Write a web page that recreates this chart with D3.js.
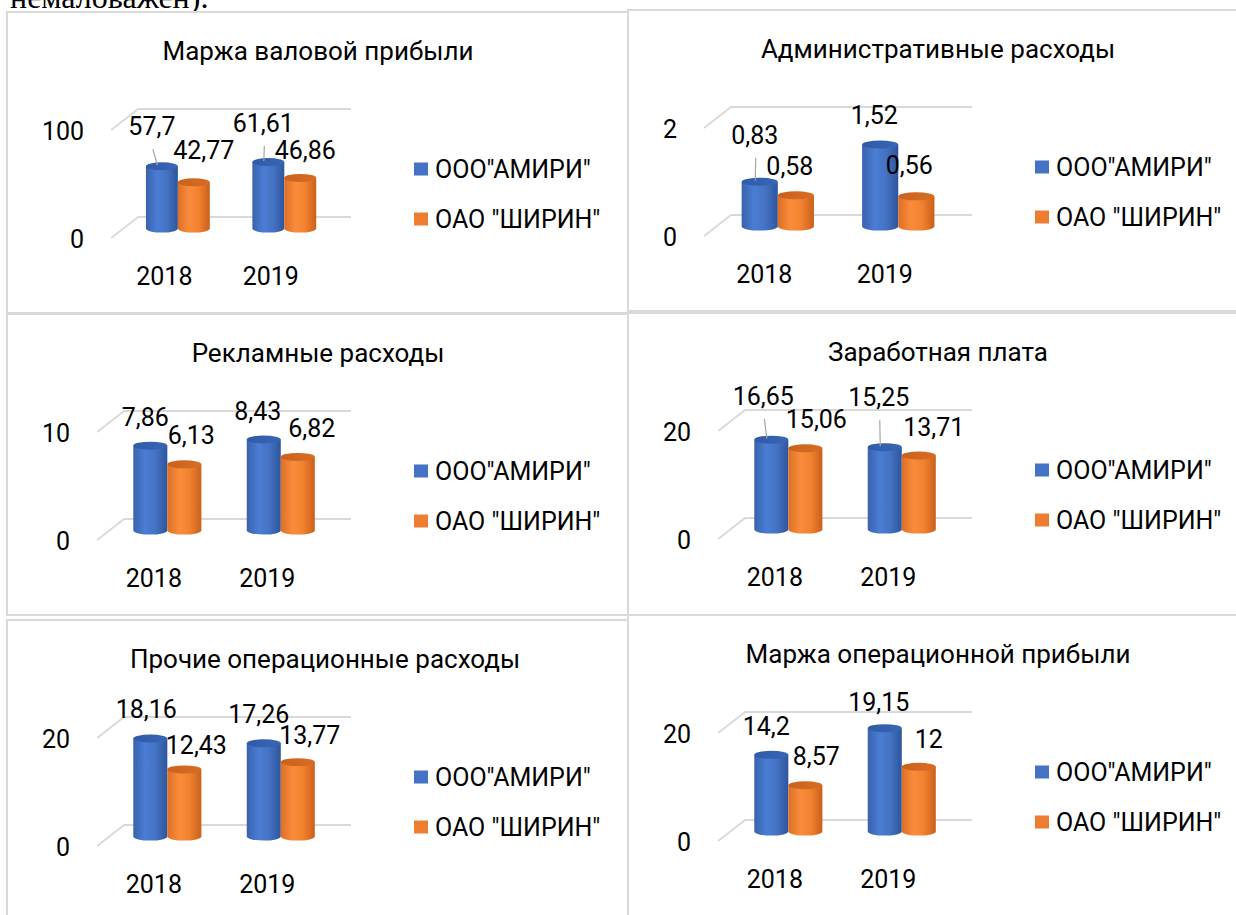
<!doctype html>
<html lang="ru">
<head>
<meta charset="utf-8">
<script src="https://cdn.jsdelivr.net/npm/d3@7/dist/d3.min.js"></script>
<style>
  body { margin:0; background:#fff; }
  svg { display:block; font-family: Roboto, "Noto Sans", sans-serif; }
</style>
</head>
<body>
<script>
// --- data ---
const years = ["2018", "2019"];
const seriesNames = ['ООО"АМИРИ"', 'ОАО "ШИРИН"'];
const titles = ["Маржа валовой прибыли", "Административные расходы", "Рекламные расходы",
                "Заработная плата", "Прочие операционные расходы", "Маржа операционной прибыли"];
const amiriValues  = [[57.7, 61.61], [0.83, 1.52], [7.86, 8.43], [16.65, 15.25], [18.16, 17.26], [14.2, 19.15]];
const shirinValues = [[42.77, 46.86], [0.58, 0.56], [6.13, 6.82], [15.06, 13.71], [12.43, 13.77], [8.57, 12]];
const axisTicks = [[0, 100], [0, 2], [0, 10], [0, 20], [0, 20], [0, 20]];

// --- layout ---
const panels = [
  {x:7,   y:12,  w:621, h:301},
  {x:628, y:10,  w:620, h:301},
  {x:7,   y:314, w:621, h:301},
  {x:628, y:313, w:620, h:302},
  {x:7,   y:620, w:621, h:302},
  {x:628, y:615, w:620, h:307}
];
const titleX = [311, 310, 311, 310, 318, 310];
// hand-moved data labels: [dx, dy] for amiri2018, shirin2018, amiri2019, shirin2019
const labelNudge = [
  [[-10,-11], [10,-3], [-5,-10], [5,1]],
  [[-5,-18], [-6,0], [-6,0], [-7,-2]],
  [[-5,0], [7,0], [-6,0], [14,0]],
  [[-8,-15], [11,0], [-6,-21], [15,0]],
  [[-4,0], [12,5], [-5,0], [12,2]],
  [[-5,0], [11,0], [-6,3], [10,1]]
];
const colors = ["#4472C4", "#ED7D31"];
const depthDx = 27, depthDy = -21;
const plotRight = 317, yZero = 226, yTop = 118;

const fmt = v => String(v).replace(".", ",");

let svg = d3.select("body").append("svg")
  .attr("width", 1236)
  .attr("height", 915);

// gradients for the cylinders
let defs = svg.append("defs");
function grad(id, stops) {
  let lg = defs.append("linearGradient").attr("id", id)
    .attr("x1", "0%").attr("x2", "100%").attr("y1", "0%").attr("y2", "0%");
  stops.forEach(s => lg.append("stop").attr("offset", s[0]).attr("stop-color", s[1]));
}
grad("body0", [["0%", "#3962ad"], ["35%", "#4a7dd4"], ["65%", "#4573c4"], ["100%", "#2d559c"]]);
grad("body1", [["0%", "#dc6f24"], ["35%", "#f98c3c"], ["65%", "#f2822f"], ["100%", "#c9601b"]]);
grad("top0",  [["0%", "#2f5aa6"], ["100%", "#3866b6"]]);
grad("top1",  [["0%", "#c9621d"], ["100%", "#d96c24"]]);

// cut-off line of the document above the charts
svg.append("text")
  .attr("x", 10).attr("y", 8)
  .attr("font-family", "'Liberation Serif', serif")
  .attr("font-size", 32)
  .attr("fill", "#000")
  .text("немаловажен).");

panels.forEach((p, i) => {
  let g = svg.append("g").attr("transform", "translate(" + p.x + "," + p.y + ")");

  g.append("rect")
    .attr("width", p.w).attr("height", p.h)
    .attr("fill", "#fff")
    .attr("stroke", "#d9d9d9")
    .attr("stroke-width", 2);

  g.append("text")
    .attr("x", titleX[i]).attr("y", 48)
    .attr("text-anchor", "middle")
    .attr("font-size", 26)
    .attr("fill", "#000")
    .text(titles[i]);

  let y = d3.scaleLinear().domain([0, axisTicks[i][1]]).range([yZero, yTop]);

  // value axis on the front plane; its left edge depends on label width
  let yAxisG = g.append("g")
    .call(d3.axisLeft(y).tickValues(axisTicks[i]).tickSize(0).tickPadding(27).tickFormat(fmt));
  yAxisG.select(".domain").remove();
  yAxisG.attr("font-family", null).attr("font-size", 25);
  yAxisG.selectAll("text").attr("fill", "#000").attr("dy", "0.36em");
  let labW = d3.max(yAxisG.selectAll("text").nodes(), n => n.getComputedTextLength());
  let plotLeft = 35 + labW + 27;
  yAxisG.attr("transform", "translate(" + plotLeft + ",0)");

  // back wall gridlines with the side-wall diagonal
  g.selectAll("path.grid")
    .data(axisTicks[i])
    .enter()
    .append("path")
    .attr("class", "grid")
    .attr("fill", "none")
    .attr("stroke", "#d9d9d9")
    .attr("stroke-width", 1.8)
    .attr("d", v => "M" + plotLeft + "," + y(v) +
                    "L" + (plotLeft + depthDx) + "," + (y(v) + depthDy) +
                    "L" + (plotRight + depthDx) + "," + (y(v) + depthDy));

  let x = d3.scaleBand().domain(years).range([plotLeft, plotRight]);
  let xAxisG = g.append("g")
    .attr("transform", "translate(0," + yZero + ")")
    .call(d3.axisBottom(x).tickSize(0).tickPadding(29));
  xAxisG.select(".domain").remove();
  xAxisG.attr("font-family", null).attr("font-size", 25);
  xAxisG.selectAll("text").attr("fill", "#000");

  let cw = x.bandwidth() * 0.3;
  let xs = d3.scaleBand().domain([0, 1]).range([-cw, cw]);
  let r = cw / 2, ry = 4;
  let shift = depthDy * 0.45;
  let base = y(0) + shift;
  let vals = [amiriValues[i], shirinValues[i]];

  years.forEach((yr, j) => {
    [0, 1].forEach(s => {
      let v = vals[s][j];
      let cx = x(yr) + x.bandwidth() / 2 + depthDx / 2 + xs(s) + xs.bandwidth() / 2;
      let top = y(v) + shift;
      g.append("path")
        .attr("fill", "url(#body" + s + ")")
        .attr("d", "M" + (cx - r) + "," + top + "L" + (cx - r) + "," + base +
                   "A" + r + "," + ry + " 0 0 0 " + (cx + r) + "," + base +
                   "L" + (cx + r) + "," + top + "Z");
      g.append("ellipse")
        .attr("cx", cx).attr("cy", top)
        .attr("rx", r).attr("ry", ry)
        .attr("fill", "url(#top" + s + ")");

      let nd = labelNudge[i][j * 2 + s];
      let lx = cx + nd[0];
      let ly = top - ry - 16 + nd[1];
      if (nd[1] <= -10) {
        g.append("line")
          .attr("x1", lx + 1).attr("y1", ly + 14)
          .attr("x2", cx - 4.5).attr("y2", top - 1)
          .attr("stroke", "#a6a6a6")
          .attr("stroke-width", 1.2);
      }
      g.append("text")
        .attr("class", "label")
        .attr("x", lx).attr("y", ly)
        .attr("text-anchor", "middle")
        .attr("font-size", 25)
        .attr("fill", "#000")
        .text(fmt(v));
    });
  });

  // legend
  let leg = g.append("g").attr("transform", "translate(407,157)");
  seriesNames.forEach((name, s) => {
    leg.append("rect")
      .attr("x", 0).attr("y", s * 50 - 6.5)
      .attr("width", 14).attr("height", 13)
      .attr("fill", colors[s]);
    leg.append("text")
      .attr("x", 21).attr("y", s * 50 + 8.5)
      .attr("font-size", 25)
      .attr("fill", "#000")
      .text(name);
  });
});
</script>
</body>
</html>
